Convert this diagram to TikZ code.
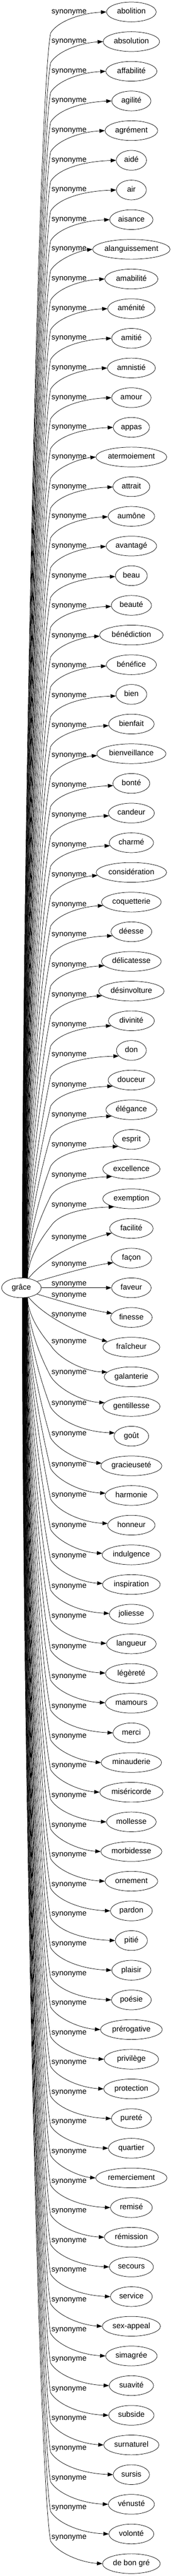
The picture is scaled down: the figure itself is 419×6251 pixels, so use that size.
\documentclass[tikz,border=0pt]{standalone}
\usepackage{fontspec}
\setmainfont{Liberation Sans}
\usetikzlibrary{arrows.meta,shapes.geometric}
\begin{document}
\begin{tikzpicture}[x=1pt,y=-1pt,
  font=\fontsize{18.67pt}{22pt}\selectfont,
  every node/.style={text height=13.4pt,text depth=3.9pt},
  wnode/.style={draw,ellipse,inner sep=0pt,minimum height=48pt,line width=0.9pt},
  synlabel/.style={anchor=west,inner sep=0pt},
  syn/.style={draw,line width=0.9pt,-{Triangle[length=13pt,width=9.3pt]}}]
\useasboundingbox (0,0) rectangle (419,6251);
\node[wnode,minimum width=96pt] (g) at (52,3125) {grâce};
\foreach \word/\rad [count=\idx from 0] in {
abolition/60.3, absolution/68.5, affabilité/62, agilité/47.5, agrément/64,
aidé/36.7, air/36.3, aisance/52.5, alanguissement/94, amabilité/64.5,
aménité/57.5, amitié/47.8, amnistié/58.3, amour/47.8, appas/44,
atermoiement/86, attrait/44.7, aumône/56.5, avantagé/61.3, beau/38.7,
beauté/48.8, bénédiction/77, bénéfice/60.8, bien/37.5, bienfait/55.3,
bienveillance/84, bonté/44.7, candeur/55.8, charmé/53.8, considération/85.5,
coquetterie/72.5, déesse/49.5, délicatesse/72.5, désinvolture/79.5, divinité/55.8,
don/36.3, douceur/56.5, élégance/61.8, esprit/44.2, excellence/69.5,
exemption/69.5, facilité/52.8, façon/49, faveur/48, finesse/50.5,
fraîcheur/69, galanterie/65.8, gentillesse/69.5, goût/42, gracieuseté/74,
harmonie/64, honneur/57.5, indulgence/71, inspiration/70, joliesse/53.5,
langueur/60.3, légèreté/62.8, mamours/63.3, merci/44.5, minauderie/73.3,
miséricorde/76.7, mollesse/60.3, morbidesse/74, ornement/64, pardon/50.8,
pitié/39, plaisir/47.5, poésie/48.3, prérogative/75, privilège/66,
protection/67, pureté/48.5, quartier/55.8, remerciement/86.5, remisé/50.8,
rémission/65.5, secours/53.5, service/50.8, sex-appeal/70.5, simagrée/62.5,
suavité/53.8, subside/55, surnaturel/67, sursis/44, vénusté/56,
volonté/54.5, de bon gré/70}{
  \pgfmathsetmacro\myyt{29+72*\idx}
  \node[wnode,minimum width={2*\rad}] (t\idx) at (319,\myyt) {\word};
  \ifnum\idx<41
    \pgfmathsetmacro\myoff{\idx<10 ? -1 : -1+16*((\idx-10)/30)^2}
    \pgfmathsetmacro\myyl{\myyt+\myoff}
    \pgfmathsetmacro\myyK{\myyl+52}
    \pgfmathsetmacro\mydist{3101-\myyK}
    \pgfmathsetmacro\mycA{\mydist/3}
    \pgfmathsetmacro\mycB{\myyK+min(150,0.3*\mydist)}
    \pgfmathtruncatemacro\myal{85-0.7*\idx}
    \pgfmathsetmacro\mydy{min(20,1.2*(\myoff+1))}
    \pgfmathtruncatemacro\myang{180+atan(\mydy/(\rad*sqrt(1-(\mydy/24)^2)))+0.5}
    \pgfmathsetmacro\myytip{\myyt+\mydy}
    \draw[syn] (g.\myal) .. controls +(0,-\mycA) and (93,\mycB) .. (123,\myyK)
      .. controls (140,\myyK-28) and (195,\myytip+3) .. (t\idx.\myang);
    \node[synlabel] (l\idx) at (125,\myyl) {synonyme};
  \fi
  \ifnum\idx>45
    \pgfmathsetmacro\myka{max(0,(62-\idx)/16)}
    \pgfmathsetmacro\myoff{-64.5-22*\myka*\myka*sqrt(\myka)}
    \pgfmathsetmacro\myyl{\myyt+\myoff}
    \pgfmathsetmacro\myyK{\myyl+10}
    \pgfmathsetmacro\mydist{\myyK-3149}
    \pgfmathsetmacro\mycA{\mydist/3}
    \pgfmathsetmacro\mycB{\myyK-min(150,0.3*\mydist)}
    \pgfmathtruncatemacro\myal{-(85-0.7*(86-\idx))}
    \pgfmathsetmacro\mydy{0.5*(\myoff+64.5)}
    \pgfmathtruncatemacro\myang{180+atan(\mydy/(\rad*sqrt(1-(\mydy/24)^2)))+0.5}
    \pgfmathsetmacro\myytip{\myyt+\mydy}
    \draw[syn] (g.\myal) .. controls +(0,\mycA) and (93,\mycB) .. (123,\myyK)
      .. controls (140,\myyK+28) and (195,\myytip-3) .. (t\idx.\myang);
    \node[synlabel] (l\idx) at (125,\myyl) {synonyme};
  \fi
  \ifnum\idx=41
    \draw[syn] (g.53) .. controls (90,3075) and (150,3025) .. (t41.193);
    \node[synlabel] (l41) at (125,3003) {synonyme};
  \fi
  \ifnum\idx=42
    \draw[syn] (g.22) .. controls (150,3092) and (220,3072) .. (t42.194);
    \node[synlabel] (l42) at (125,3067) {synonyme};
  \fi
  \ifnum\idx=43
    \draw[syn] (g.east) -- (t43.west);
    \node[synlabel] (l43) at (125,3115) {synonyme};
  \fi
  \ifnum\idx=44
    \draw[syn] (g.-22) .. controls (150,3158) and (215,3178) .. (t44.168);
    \node[synlabel] (l44) at (125,3143) {synonyme};
  \fi
  \ifnum\idx=45
    \draw[syn] (g.-53) .. controls (95,3180) and (160,3225) .. (t45.167);
    \node[synlabel] (l45) at (125,3190) {synonyme};
  \fi
}
\end{tikzpicture}
\end{document}
